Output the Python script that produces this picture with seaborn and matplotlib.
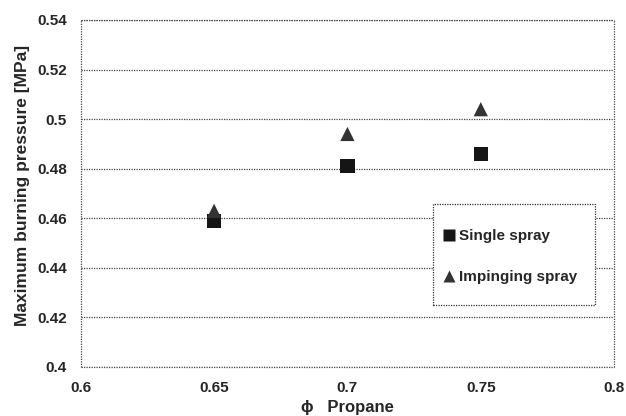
import matplotlib
matplotlib.use("Agg")
import matplotlib.pyplot as plt
import matplotlib.patches as mpatches
import seaborn as sns
import pandas as pd

phi = [0.65, 0.70, 0.75]
single_spray = [0.459, 0.481, 0.486]
impinging_spray = [0.463, 0.494, 0.504]
series_names = ["Single spray", "Impinging spray"]
x_ticks = [0.6, 0.65, 0.7, 0.75, 0.8]
x_tick_labels = ["0.6", "0.65", "0.7", "0.75", "0.8"]
y_ticks = [0.4, 0.42, 0.44, 0.46, 0.48, 0.5, 0.52, 0.54]
y_tick_labels = ["0.4", "0.42", "0.44", "0.46", "0.48", "0.5", "0.52", "0.54"]

df = pd.DataFrame({
    "phi": phi * 2,
    "p": single_spray + impinging_spray,
    "series": [series_names[0]] * len(phi) + [series_names[1]] * len(phi),
})

sns.set_style("white")
plt.rcParams["font.family"] = ["Liberation Sans", "DejaVu Sans"]
plt.rcParams["font.weight"] = "bold"

fig = plt.figure(figsize=(6.26, 4.16), dpi=100)
ax = fig.add_axes([0.129, 0.118, 0.852, 0.834])

sns.scatterplot(
    data=df, x="phi", y="p", hue="series", style="series",
    palette={series_names[0]: "#151515", series_names[1]: "#333333"},
    markers={series_names[0]: "s", series_names[1]: "^"},
    s=105, edgecolor="none", ax=ax, zorder=3,
)

ax.set_xlim(0.6, 0.8)
ax.set_ylim(0.4, 0.54)
ax.set_xticks(x_ticks)
ax.set_xticklabels(x_tick_labels, fontsize=11, fontweight="bold")
ax.set_yticks(y_ticks)
ax.set_yticklabels(y_tick_labels, fontsize=11, fontweight="bold")
ax.tick_params(axis="y", length=0, pad=10)
ax.tick_params(axis="x", length=0, pad=10)

dots = (0, (1, 1))
ax.yaxis.grid(True, color="#444444", linestyle=dots, linewidth=0.9)
ax.xaxis.grid(False)
for side in ["left", "right", "top", "bottom"]:
    sp = ax.spines[side]
    sp.set_visible(True)
    sp.set_color("#444444")
    sp.set_linestyle(dots)
    sp.set_linewidth(0.9)
    sp.set_capstyle("butt")

ax.set_xlabel("ϕ   Propane", fontsize=12, fontweight="bold", labelpad=4)
ax.set_ylabel("Maximum burning pressure [MPa]", fontsize=12.5, fontweight="bold")
ax.yaxis.set_label_coords(-0.095, 0.524)

# legend box (dotted frame) drawn as a patch, entries via legend
box = mpatches.Rectangle((0.660, 0.179), 0.304, 0.291, transform=ax.transAxes,
                         facecolor="white", edgecolor="#333333", linewidth=0.9,
                         linestyle=dots, zorder=4)
ax.add_patch(box)

handles, labels = ax.get_legend_handles_labels()
for h in handles:
    if hasattr(h, "set_markersize"):
        h.set_markersize(8)
leg = ax.legend(
    handles, labels, loc="center left", bbox_to_anchor=(0.672, 0.318),
    frameon=False, fontsize=11, handlelength=0.9,
    labelspacing=1.75, handletextpad=0.2, borderpad=0.2, borderaxespad=0,
)
leg.set_zorder(5)
for t in leg.get_texts():
    t.set_fontweight("bold")

fig.savefig("out.png", dpi=100, facecolor="white")
